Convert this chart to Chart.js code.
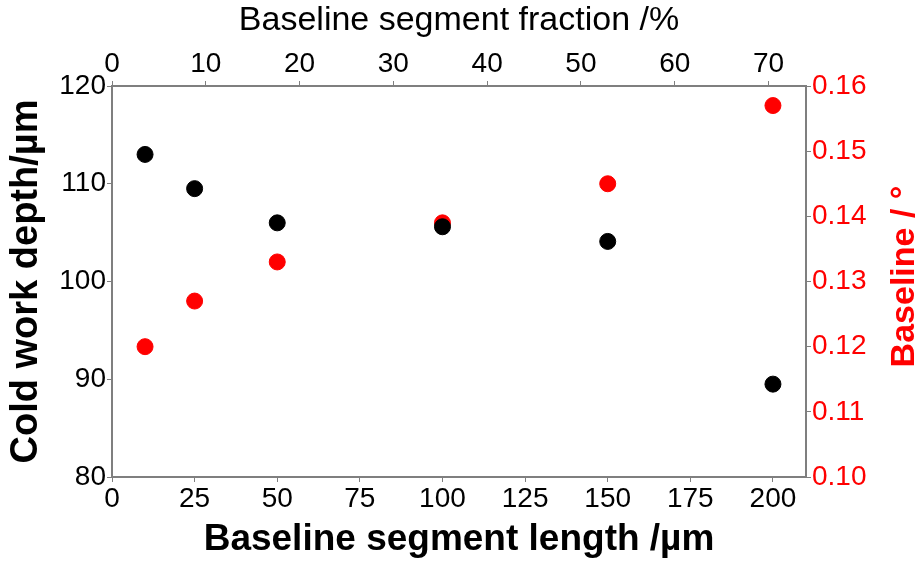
<!DOCTYPE html>
<html>
<head>
<meta charset="utf-8">
<script src="https://cdn.jsdelivr.net/npm/chart.js@4"></script>
<style>
    html, body { margin: 0; padding: 0; background: #fff; }
    #wrap { width: 922px; height: 562px; }
</style>
</head>
<body>
<div id="wrap"><canvas id="myChart"></canvas></div>
<script>
// segment length (µm) on the bottom axis
const segmentLength = [10, 25, 50, 100, 150, 200];
// cold work depth (µm), left axis
const coldWorkDepth = [113.0, 109.5, 106.0, 105.6, 104.1, 89.5];
// baseline (°), right axis
const baselineDeg = [0.120, 0.127, 0.133, 0.139, 0.145, 0.157];

const bottomTicks = [0, 25, 50, 75, 100, 125, 150, 175, 200];
const topTicks = [0, 10, 20, 30, 40, 50, 60, 70];
const leftTicks = [80, 90, 100, 110, 120];
const rightTicks = [0.10, 0.11, 0.12, 0.13, 0.14, 0.15, 0.16];

const axisGrey = '#7f7f7f';
const tickFont = { family: 'Liberation Sans', size: 28 };

function toPoints(xs, ys) {
    let pts = [];
    for (let i = 0; i < xs.length; i++) {
        pts.push({ x: xs[i], y: ys[i] });
    }
    return pts;
}

function fixedSize(size) {
    // keeps the plot box at the same place as the original figure
    return function(scale) {
        if (scale.isHorizontal()) {
            scale.height = size;
        } else {
            scale.width = size;
        }
    };
}

function useTicks(list) {
    return function(scale) {
        scale.ticks = list.map(v => ({ value: v }));
    };
}

// right axis title reads bottom-to-top like the left one, Chart.js turns it the other way
const rightTitle = {
    id: 'rightTitle',
    afterDraw(chart) {
        const c = chart.ctx;
        const area = chart.chartArea;
        c.save();
        c.translate(chart.width - 17, (area.top + area.bottom) / 2 - 5);
        c.rotate(-Math.PI / 2);
        c.fillStyle = '#ff0000';
        c.font = 'bold 34px "Liberation Sans"';
        c.textAlign = 'center';
        c.textBaseline = 'middle';
        c.fillText('Baseline / °', 0, 0);
        c.restore();
    }
};

const ctx = document.getElementById('myChart').getContext('2d');
new Chart(ctx, {
    type: 'scatter',
    data: {
        datasets: [
            {
                label: 'Cold work depth',
                data: toPoints(segmentLength, coldWorkDepth),
                backgroundColor: '#000000',
                borderColor: '#000000',
                pointRadius: 8,
                xAxisID: 'x',
                yAxisID: 'y',
            },
            {
                label: 'Baseline',
                data: toPoints(segmentLength, baselineDeg),
                backgroundColor: '#ff0000',
                borderColor: '#ff0000',
                pointRadius: 8,
                xAxisID: 'x',
                yAxisID: 'y1',
            }
        ]
    },
    options: {
        responsive: true,
        maintainAspectRatio: false,
        animation: false,
        layout: { padding: 0 },
        plugins: {
            legend: { display: false },
            tooltip: { enabled: false }
        },
        scales: {
            x: {
                type: 'linear',
                position: 'bottom',
                min: 0,
                max: 210,
                afterFit: fixedSize(85),
                afterBuildTicks: useTicks(bottomTicks),
                border: { color: axisGrey, width: 2 },
                grid: { drawOnChartArea: false, tickLength: 5, color: axisGrey },
                ticks: {
                    color: '#000',
                    font: tickFont,
                    padding: 0,
                    maxRotation: 0,
                    autoSkip: false
                },
                title: {
                    display: true,
                    text: 'Baseline segment length /µm',
                    color: '#000',
                    font: { family: 'Liberation Sans', size: 37, weight: 'bold' },
                    padding: { top: 0, bottom: 0 }
                }
            },
            x2: {
                type: 'linear',
                position: 'top',
                min: 0,
                max: 74,
                afterFit: fixedSize(86),
                afterBuildTicks: useTicks(topTicks),
                border: { color: axisGrey, width: 2 },
                grid: { drawOnChartArea: false, tickLength: 5, color: axisGrey },
                ticks: {
                    color: '#000',
                    font: tickFont,
                    padding: 0,
                    maxRotation: 0,
                    autoSkip: false
                },
                title: {
                    display: true,
                    text: 'Baseline segment fraction /%',
                    color: '#000',
                    font: { family: 'Liberation Sans', size: 34 },
                    padding: { top: 0, bottom: 0 }
                }
            },
            y: {
                type: 'linear',
                position: 'left',
                min: 80,
                max: 120,
                afterFit: fixedSize(112),
                afterBuildTicks: useTicks(leftTicks),
                border: { color: axisGrey, width: 2 },
                grid: { drawOnChartArea: false, tickLength: 5, color: axisGrey },
                ticks: {
                    color: '#000',
                    font: tickFont,
                    padding: 1
                },
                title: {
                    display: true,
                    text: 'Cold work depth/µm',
                    color: '#000',
                    font: { family: 'Liberation Sans', size: 38, weight: 'bold' },
                    padding: { top: 4, bottom: 0 }
                }
            },
            y1: {
                type: 'linear',
                position: 'right',
                min: 0.10,
                max: 0.16,
                afterFit: fixedSize(116),
                afterBuildTicks: useTicks(rightTicks),
                border: { color: axisGrey, width: 2 },
                grid: { drawOnChartArea: false, tickLength: 5, color: axisGrey },
                ticks: {
                    color: '#ff0000',
                    font: tickFont,
                    padding: 1,
                    callback: function(v) { return v.toFixed(2); }
                },
                title: { display: false }
            }
        }
    },
    plugins: [rightTitle]
});
</script>
</body>
</html>
